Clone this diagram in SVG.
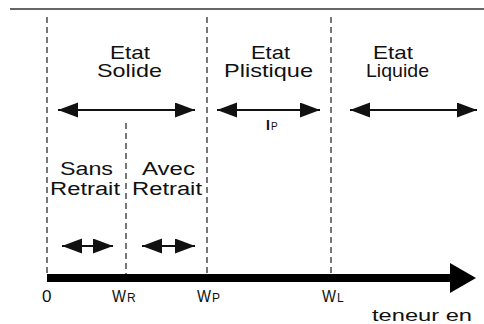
<svg xmlns="http://www.w3.org/2000/svg" width="484" height="324" viewBox="0 0 484 324">
<style>
.t{font-family:"Liberation Sans",Arial,sans-serif;fill:#111}
.dash{stroke:#555;stroke-width:1.6;stroke-dasharray:6 4;fill:none}
.arr{stroke:#111;stroke-width:2;fill:none;marker-start:url(#ah);marker-end:url(#ah)}
</style>
<defs>
<marker id="ah" markerUnits="userSpaceOnUse" markerWidth="20" markerHeight="16" refX="20" refY="7.5" orient="auto-start-reverse">
<path d="M0,0 L20,7.5 L0,15 z" fill="#111"/>
</marker>
</defs>
<rect width="484" height="324" fill="#fff"/>
<line x1="10" y1="9" x2="484" y2="9" stroke="#333" stroke-width="1.5"/>
<g id="connectors">
<line class="dash" x1="47" y1="17" x2="47" y2="274"/>
<line class="dash" x1="207" y1="17" x2="207" y2="274"/>
<line class="dash" x1="331" y1="17" x2="331" y2="274"/>
<line class="dash" x1="126" y1="123" x2="126" y2="274"/>
<line class="arr" x1="58" y1="110" x2="195" y2="110"/>
<line class="arr" x1="217" y1="110" x2="320" y2="110"/>
<line class="arr" x1="350" y1="110" x2="477" y2="110"/>
<line class="arr" x1="62" y1="246" x2="113" y2="246"/>
<line class="arr" x1="142" y1="246" x2="195" y2="246"/>
</g>
<g id="axis">
<rect x="47" y="274" width="405" height="8" fill="#000"/>
<path d="M450,263 L476,278 L450,293 z" fill="#000"/>
</g>
<g id="solide">
<text class="t" x="110" y="59" font-size="19" textLength="40" lengthAdjust="spacingAndGlyphs">Etat</text>
<text class="t" x="97" y="77" font-size="19" textLength="65" lengthAdjust="spacingAndGlyphs">Solide</text>
</g>
<g id="plastique">
<text class="t" x="251" y="59" font-size="19" textLength="39" lengthAdjust="spacingAndGlyphs">Etat</text>
<text class="t" x="224" y="77" font-size="19" textLength="89" lengthAdjust="spacingAndGlyphs">Plistique</text>
<text class="t" x="266" y="130" font-size="14" font-weight="bold">I</text>
<text class="t" x="271" y="130" font-size="10">P</text>
</g>
<g id="liquide">
<text class="t" x="373" y="59" font-size="19" textLength="40" lengthAdjust="spacingAndGlyphs">Etat</text>
<text class="t" x="366" y="77" font-size="19" textLength="63" lengthAdjust="spacingAndGlyphs">Liquide</text>
</g>
<g id="sans-retrait">
<text class="t" x="60" y="175" font-size="18" textLength="53" lengthAdjust="spacingAndGlyphs">Sans</text>
<text class="t" x="50" y="195" font-size="18" textLength="70" lengthAdjust="spacingAndGlyphs">Retrait</text>
</g>
<g id="avec-retrait">
<text class="t" x="142" y="175" font-size="18" textLength="53" lengthAdjust="spacingAndGlyphs">Avec</text>
<text class="t" x="132" y="195" font-size="18" textLength="70" lengthAdjust="spacingAndGlyphs">Retrait</text>
</g>
<g id="labels">
<text class="t" x="42" y="302" font-size="17">0</text>
<text class="t" x="112" y="302" font-size="16" textLength="14" lengthAdjust="spacingAndGlyphs">W</text>
<text class="t" x="127" y="302" font-size="12">R</text>
<text class="t" x="197" y="302" font-size="16" textLength="14" lengthAdjust="spacingAndGlyphs">W</text>
<text class="t" x="212" y="302" font-size="12">P</text>
<text class="t" x="322" y="302" font-size="16" textLength="14" lengthAdjust="spacingAndGlyphs">W</text>
<text class="t" x="337" y="302" font-size="12">L</text>
<text class="t" x="372" y="321" font-size="17" textLength="100" lengthAdjust="spacingAndGlyphs">teneur en</text>
</g>
</svg>
